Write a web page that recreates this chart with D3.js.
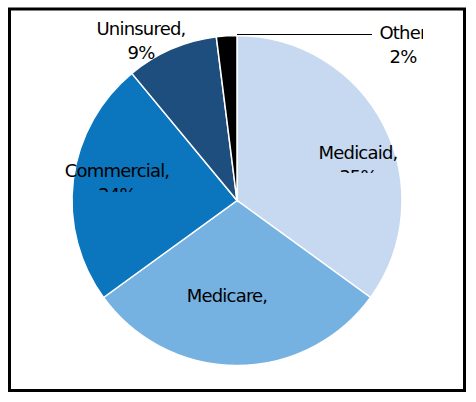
<!DOCTYPE html>
<html>
<head>
<meta charset="utf-8">
<script src="https://cdn.jsdelivr.net/npm/d3@7"></script>
<style>
  body { margin: 0; background: #fff; }
  text { font-family: "DejaVu Sans", sans-serif; font-size: 18px; letter-spacing: -0.8px; fill: #000; }
</style>
</head>
<body>
<svg id="chart" width="476" height="402"></svg>
<script>
// payer mix, percent
var categories = ["Medicaid", "Medicare", "Commercial", "Uninsured", "Other"];
var values = [35, 30, 24, 9, 2];
var colors = ["#c6d9f1", "#75b1e1", "#0b76be", "#1e4e7d", "#000000"];

// label placement (centre x, first baseline, clip bottom)
var labelX = [358, 227, 117, 141, 403];
var labelY = [159, 302, 177, 35, 39];
var clipBottom = [173, 306, 192, 70, 70];
var clipRight = [476, 476, 476, 476, 423];

var svg = d3.select("#chart");
var cx = 237, cy = 200.5, r = 165;

svg.append("rect")
  .attr("x", 9.5).attr("y", 9)
  .attr("width", 455).attr("height", 381.5)
  .attr("fill", "#fff")
  .attr("stroke", "#000")
  .attr("stroke-width", 3);

var pie = d3.pie().sort(null).value(function(d) { return d; });
var arc = d3.arc().innerRadius(0).outerRadius(r);

var g = svg.append("g").attr("transform", "translate(" + cx + "," + cy + ")");
g.selectAll("path")
  .data(pie(values))
  .enter().append("path")
  .attr("d", arc)
  .attr("fill", function(d, i) { return colors[i]; })
  .attr("stroke", "#fff")
  .attr("stroke-width", 1.5);

// leader line for the small slice
svg.append("line")
  .attr("x1", cx).attr("y1", 34.5)
  .attr("x2", 372).attr("y2", 34.5)
  .attr("stroke", "#000")
  .attr("stroke-width", 1);

var defs = svg.append("defs");
categories.forEach(function(c, i) {
  defs.append("clipPath").attr("id", "clip" + i)
    .append("rect")
    .attr("x", 0).attr("y", 0)
    .attr("width", clipRight[i]).attr("height", clipBottom[i]);

  var t = svg.append("text")
    .attr("clip-path", "url(#clip" + i + ")")
    .attr("text-anchor", "middle");
  t.append("tspan").attr("x", labelX[i]).attr("y", labelY[i])
    .text(c === "Other" ? c : c + ",");
  t.append("tspan").attr("x", labelX[i]).attr("y", labelY[i] + 24)
    .text(values[i] + "%");
});
</script>
</body>
</html>
